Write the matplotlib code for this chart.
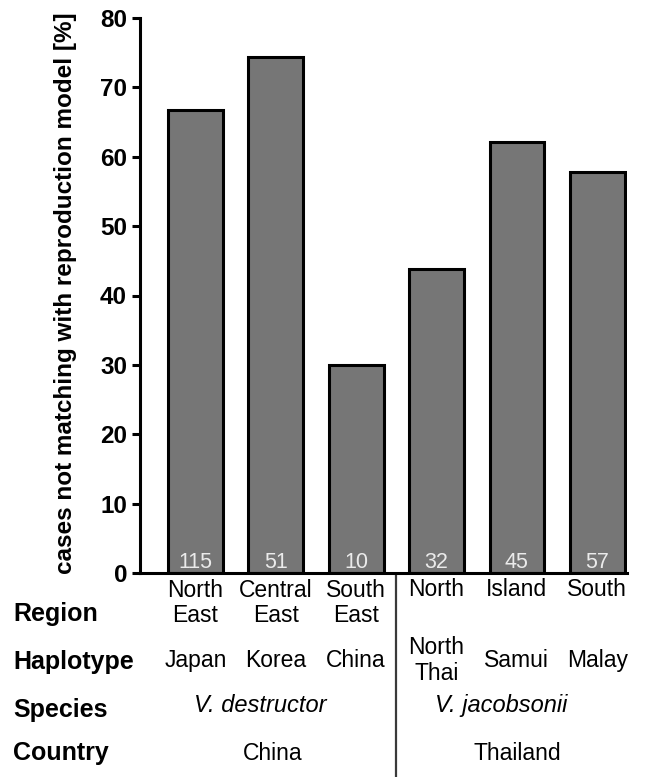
import matplotlib
matplotlib.use("Agg")
import matplotlib.pyplot as plt
import matplotlib.transforms as mtransforms
import numpy as np

plt.rcParams['font.family'] = ['Liberation Sans', 'DejaVu Sans']

# ---- data ----
values = [66.8, 74.4, 30.0, 43.8, 62.1, 57.8]
counts = ["115", "51", "10", "32", "45", "57"]
regions = ["North\nEast", "Central\nEast", "South\nEast", "North", "Island", "South"]
haplotypes = ["Japan", "Korea", "China", "North\nThai", "Samui", "Malay"]
species = ["V. destructor", "V. jacobsonii"]
countries = ["China", "Thailand"]
row_names = ["Region", "Haplotype", "Species", "Country"]
yticks = [0, 10, 20, 30, 40, 50, 60, 70, 80]
ylabel = "cases not matching with reproduction model [%]"

W, H = 646, 777
fig = plt.figure(figsize=(W / 100, H / 100), dpi=100)

def fy(px):
    return 1 - px / H

ax = fig.add_axes([140 / W, fy(573), (627 - 140) / W, (573 - 18) / H])
x = np.arange(len(values))
ax.bar(x, values, width=0.68, color="#767676", edgecolor="black", linewidth=2.2, zorder=2)
ax.set_xlim(-0.69, 5.37)
ax.set_ylim(0, 80)
ax.set_yticks(yticks)
ax.set_yticklabels([str(t) for t in yticks], fontsize=17.5, fontweight="bold")
ax.set_xticks([])
for s in ["top", "right"]:
    ax.spines[s].set_visible(False)
for s in ["left", "bottom"]:
    ax.spines[s].set_linewidth(2.2)
ax.tick_params(axis="y", length=5.8, width=2.2, pad=3.5)

fig.text(66 / W, fy(293), ylabel, rotation=90, ha="center", va="center",
         fontsize=17.5, fontweight="bold")

trans = mtransforms.blended_transform_factory(ax.transData, fig.transFigure)

# counts inside bars
for i, c in enumerate(counts):
    ax.text(i, fy(568), c, transform=trans, ha="center", va="baseline",
            fontsize=15.5, color="#ebebeb", zorder=3)

# region row (top aligned)
for i, lab in enumerate(regions):
    lines = lab.split("\n")
    base = 597 if len(lines) > 1 else 596
    for k, line in enumerate(lines):
        ax.text(i, fy(base + 25 * k), line, transform=trans, ha="center",
                va="baseline", fontsize=16.5)

# haplotype row (centered)
for i, lab in enumerate(haplotypes):
    lines = lab.split("\n")
    n = len(lines)
    for k, line in enumerate(lines):
        yb = 667 + (k - (n - 1) / 2) * 27
        ax.text(i, fy(yb), line, transform=trans, ha="center", va="baseline",
                fontsize=16.5)

# species row
for g, sp in enumerate(species):
    ax.text(3 * g + 1 - 0.19, fy(712), sp, transform=trans, ha="center",
            va="baseline", fontsize=17, style="italic")

# country row
for g, cn in enumerate(countries):
    ax.text(3 * g + 1 - 0.04 * (1 - g), fy(760), cn, transform=trans, ha="center",
            va="baseline", fontsize=16.5)

# row names
for name, yb in zip(row_names, [621, 669, 717, 760]):
    fig.text(13 / W, fy(yb), name, ha="left", va="baseline", fontsize=18,
             fontweight="bold")

# group separator
ax.plot([2.5, 2.5], [fy(576), 0], transform=trans, color="#3a3a3a",
        linewidth=1.6, clip_on=False)

fig.savefig("out.png", dpi=100)
